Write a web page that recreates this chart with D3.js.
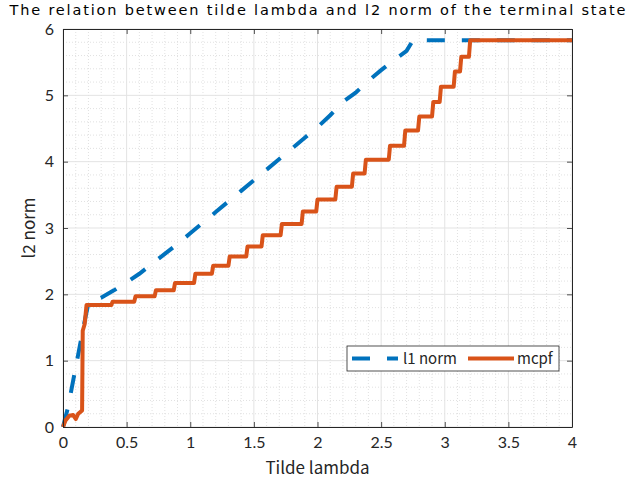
<!DOCTYPE html>
<html><head><meta charset="utf-8">
<script src="https://cdn.jsdelivr.net/npm/d3@7/dist/d3.min.js"></script>
<style>body{margin:0;background:#fff;} svg{display:block;}</style>
</head><body>
<svg id="c" width="629" height="481"></svg>
<script>
// ---- data ----
const xTicks = [0, 0.5, 1, 1.5, 2, 2.5, 3, 3.5, 4];
const xTickLabels = ["0", "0.5", "1", "1.5", "2", "2.5", "3", "3.5", "4"];
const yTicks = [0, 1, 2, 3, 4, 5, 6];
const yTickLabels = ["0", "1", "2", "3", "4", "5", "6"];
const seriesNames = ["l1 norm", "mcpf"];

const l1X = [0, 0.04, 0.1, 0.16, 0.2, 0.3, 0.4, 0.5, 0.6, 0.7, 0.8, 0.9, 1.0, 1.1, 1.2, 1.3, 1.4, 1.5, 1.6, 1.7, 1.8, 1.9, 2.0, 2.1, 2.2, 2.3, 2.4, 2.5, 2.6, 2.7, 2.75, 2.8, 4.0];
const l1Y = [0, 0.3, 0.9, 1.5, 1.87, 1.95, 2.06, 2.18, 2.31, 2.46, 2.61, 2.76, 2.92, 3.08, 3.24, 3.40, 3.56, 3.72, 3.88, 4.04, 4.20, 4.36, 4.52, 4.70, 4.90, 5.04, 5.22, 5.38, 5.53, 5.67, 5.83, 5.83, 5.83];

const mcpfX = [0, 0.02, 0.05, 0.08, 0.1, 0.12, 0.15, 0.155, 0.17, 0.185,
  0.38, 0.39, 0.56, 0.57, 0.72, 0.73, 0.87, 0.88, 1.03, 1.04, 1.17, 1.18, 1.30, 1.31, 1.44, 1.45,
  1.56, 1.57, 1.71, 1.72, 1.875, 1.885, 1.99, 2.0, 2.14, 2.15, 2.27, 2.28, 2.37, 2.38, 2.56, 2.57,
  2.68, 2.69, 2.79, 2.80, 2.90, 2.91, 2.96, 2.97, 3.07, 3.08, 3.12, 3.13, 3.19, 3.20, 4.0];
const mcpfY = [0, 0.1, 0.17, 0.18, 0.12, 0.2, 0.25, 1.45, 1.55, 1.84,
  1.84, 1.89, 1.89, 1.97, 1.97, 2.06, 2.06, 2.17, 2.17, 2.31, 2.31, 2.43, 2.43, 2.57, 2.57, 2.72,
  2.72, 2.89, 2.89, 3.06, 3.06, 3.25, 3.25, 3.43, 3.43, 3.62, 3.62, 3.82, 3.82, 4.03, 4.03, 4.24,
  4.24, 4.47, 4.47, 4.68, 4.68, 4.90, 4.90, 5.13, 5.13, 5.36, 5.36, 5.58, 5.58, 5.83, 5.83];

// ---- drawing ----
const svg = d3.select("#c");
const L = 63, R = 572, T = 29, B = 427;
const x = d3.scaleLinear().domain([0, 4]).range([L, R]);
const y = d3.scaleLinear().domain([0, 6]).range([B, T]);
const font = "'Noto Sans CJK JP', 'Noto Sans', sans-serif";
const tickFont = "Lato, 'Noto Sans', sans-serif";
const titleFont = "'DejaVu Sans', sans-serif";
const axisColor = "#262626";

// minor grid
const g = svg.append("g");
d3.range(0, 4.0001, 0.1).forEach(v => {
  if (Math.abs(v*2 - Math.round(v*2)) < 1e-6) return;
  g.append("line").attr("x1", x(v)).attr("x2", x(v)).attr("y1", T).attr("y2", B)
    .attr("stroke", "#d9d9d9").attr("stroke-width", 0.8).attr("stroke-dasharray", "1,2");
});
d3.range(0, 6.0001, 0.2).forEach(v => {
  if (Math.abs(v - Math.round(v)) < 1e-6) return;
  g.append("line").attr("x1", L).attr("x2", R).attr("y1", y(v)).attr("y2", y(v))
    .attr("stroke", "#d9d9d9").attr("stroke-width", 0.8).attr("stroke-dasharray", "1,2");
});
// major grid
xTicks.forEach(v => g.append("line").attr("x1", x(v)).attr("x2", x(v)).attr("y1", T).attr("y2", B)
  .attr("stroke", "#e3e3e3").attr("stroke-width", 1));
yTicks.forEach(v => g.append("line").attr("x1", L).attr("x2", R).attr("y1", y(v)).attr("y2", y(v))
  .attr("stroke", "#e3e3e3").attr("stroke-width", 1));

// series
const lineGen = d3.line().x(d => x(d[0])).y(d => y(d[1]));
const l1Data = l1X.map((v, i) => [v, l1Y[i]]);
const mcpfData = mcpfX.map((v, i) => [v, mcpfY[i]]);
svg.append("path").datum(l1Data).attr("d", lineGen).attr("fill", "none")
  .attr("stroke", "#0072BD").attr("stroke-width", 4).attr("stroke-dasharray", "18,17");
svg.append("path").datum(mcpfData).attr("d", lineGen).attr("fill", "none")
  .attr("stroke", "#D95319").attr("stroke-width", 4).attr("stroke-linejoin", "round");

// axes
const xAxis = d3.axisBottom(x).tickValues(xTicks).tickFormat((d, i) => xTickLabels[i]).tickSizeInner(-5).tickSizeOuter(0).tickPadding(10);
const yAxis = d3.axisLeft(y).tickValues(yTicks).tickFormat((d, i) => yTickLabels[i]).tickSizeInner(-5).tickSizeOuter(0).tickPadding(9);
const xTop = d3.axisTop(x).tickValues(xTicks).tickFormat("").tickSizeInner(-5).tickSizeOuter(0);
const yRight = d3.axisRight(y).tickValues(yTicks).tickFormat("").tickSizeInner(-5).tickSizeOuter(0);
function style(sel) {
  sel.selectAll("path").attr("stroke", axisColor).attr("stroke-width", 1);
  sel.selectAll("line").attr("stroke", axisColor).attr("stroke-width", 0.8);
  sel.selectAll("text").attr("fill", axisColor).style("font-family", tickFont).style("font-size", "16px");
}
svg.append("g").attr("transform", `translate(0,${B})`).call(xAxis).call(style);
svg.append("g").attr("transform", `translate(${L},0)`).call(yAxis).call(style);
svg.append("g").attr("transform", `translate(0,${T})`).call(xTop).call(style);
svg.append("g").attr("transform", `translate(${R},0)`).call(yRight).call(style);

// labels
svg.append("text").attr("x", (L + R) / 2).attr("y", 474).attr("text-anchor", "middle")
  .style("font-family", font).style("font-size", "17px").attr("fill", axisColor).text("Tilde lambda");
svg.append("text").attr("transform", `translate(35,${(T + B) / 2}) rotate(-90)`).attr("text-anchor", "middle")
  .style("font-family", font).style("font-size", "17px").attr("fill", axisColor).text("l2 norm");
svg.append("text").attr("x", (L + R) / 2).attr("y", 15).attr("text-anchor", "middle")
  .attr("textLength", 616).attr("lengthAdjust", "spacing")
  .style("font-family", titleFont).style("font-size", "14.5px").attr("fill", "#000").text("The relation between tilde lambda and l2 norm of the terminal state");

// legend
const lg = svg.append("g");
lg.append("rect").attr("x", 347).attr("y", 346).attr("width", 212).attr("height", 25)
  .attr("fill", "#fff").attr("stroke", axisColor).attr("stroke-width", 0.8);
const colors = ["#0072BD", "#D95319"];
const sampleX = [352, 468], textX = [403, 517];
seriesNames.forEach((n, i) => {
  lg.append("line").attr("x1", sampleX[i]).attr("x2", sampleX[i] + 46).attr("y1", 358.5).attr("y2", 358.5)
    .attr("stroke", colors[i]).attr("stroke-width", 4).attr("stroke-dasharray", i === 0 ? "18,17" : null);
  lg.append("text").attr("x", textX[i]).attr("y", 364).style("font-family", font).style("font-size", "15px")
    .attr("fill", axisColor).text(n);
});
</script>
</body></html>
